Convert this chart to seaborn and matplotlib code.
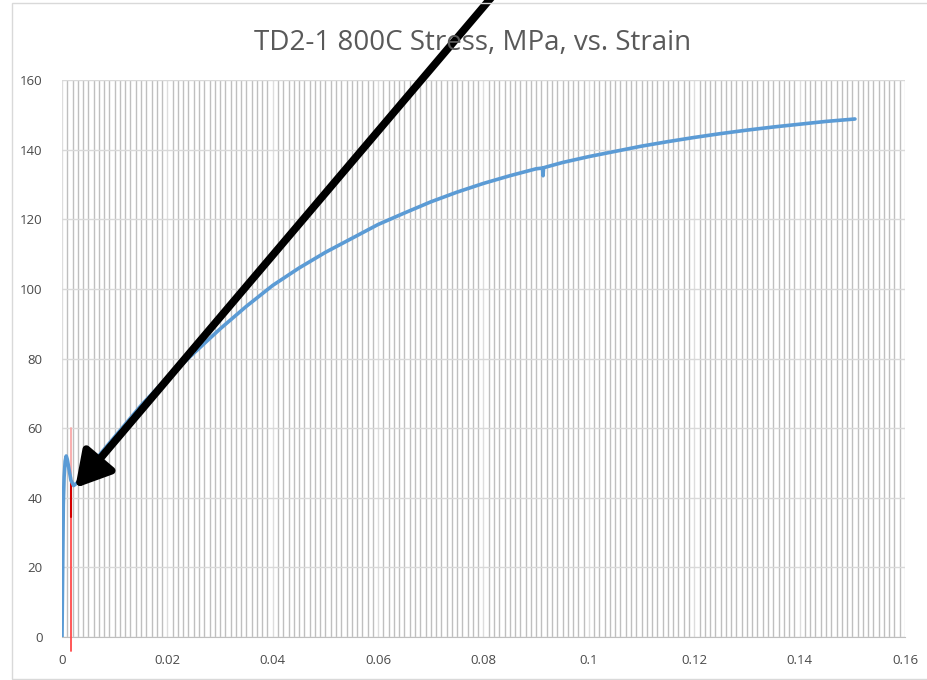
import matplotlib
matplotlib.use("Agg")
import matplotlib.pyplot as plt
import seaborn as sns
import numpy as np
import pandas as pd
from matplotlib.patches import Rectangle

# stress-strain curve
strain = [0, 0.0001, 0.00025, 0.0004, 0.0006, 0.0008, 0.001, 0.0013, 0.0017, 0.0022,
          0.0035, 0.005, 0.0075, 0.01, 0.0125, 0.015, 0.0175, 0.02, 0.0225, 0.025,
          0.0275, 0.03, 0.035, 0.04, 0.045, 0.05, 0.055, 0.06, 0.065, 0.07,
          0.075, 0.08, 0.085, 0.09, 0.0912, 0.0913, 0.0914, 0.095, 0.1, 0.105,
          0.11, 0.115, 0.12, 0.125, 0.13, 0.135, 0.14, 0.145, 0.1505]
stress = [0, 15, 38, 46, 50.5, 52, 51, 48.5, 45, 43.5,
          45, 48, 53, 57.5, 62, 66.5, 70.5, 74.5, 78, 81.5,
          85, 88.5, 95, 101, 106, 110.5, 114.5, 118.5, 121.8, 125,
          127.8, 130.3, 132.5, 134.5, 134.7, 132.5, 134.8, 136.3, 138, 139.5,
          141, 142.3, 143.5, 144.6, 145.6, 146.5, 147.3, 148.1, 148.8]

# red marker line (offset strain)
marker_x = 0.0017
marker_pink = [46, 60]
marker_red = [-4, 46]
marker_dark = [34.5, 46]

x_ticks = [0, 0.02, 0.04, 0.06, 0.08, 0.1, 0.12, 0.14, 0.16]
x_tick_labels = ["0", "0.02", "0.04", "0.06", "0.08", "0.1", "0.12", "0.14", "0.16"]
y_ticks = [0, 20, 40, 60, 80, 100, 120, 140, 160]

# arrow tip (data) and tail (figure fraction)
arrow_tip = (0.0025, 42.8)
arrow_tail = (495 / 927, 1.01)

title = "TD2-1 800C Stress, MPa, vs. Strain"

sns.set_style("white")
plt.rcParams['font.family'] = ['Open Sans', 'DejaVu Sans']

fig = plt.figure(figsize=(9.27, 6.8), dpi=100)
ax = fig.add_axes([62 / 927, 1 - 637 / 680, (905 - 62) / 927, (637 - 80) / 680])

df = pd.DataFrame({"strain": strain, "stress": stress})

# grid: dark minor verticals, lighter majors
ax.set_xlim(0, 0.16)
ax.set_ylim(0, 160)
ax.set_xticks(x_ticks)
ax.set_xticklabels(x_tick_labels)
ax.set_yticks(y_ticks)
ax.set_xticks(np.arange(0, 0.1605, 0.001), minor=True)
ax.grid(which='minor', axis='x', color='#BFBFBF', lw=1.0)
ax.grid(which='major', axis='x', color='#DDDDDD', lw=1.0)
ax.grid(which='major', axis='y', color='#D9D9D9', lw=1.0)
ax.set_axisbelow(True)
ax.tick_params(which='both', length=0)
ax.tick_params(axis='x', pad=12, labelsize=9.5, colors='#4A4A4A')
ax.tick_params(axis='y', pad=14, labelsize=9.5, colors='#4A4A4A')
for s in ['left', 'top', 'right']:
    ax.spines[s].set_visible(False)
ax.spines['bottom'].set_color('#BFBFBF')

ax.plot([marker_x, marker_x], marker_red, color='#FF4A4A', lw=1.3, clip_on=False, zorder=3)
ax.plot([marker_x, marker_x], marker_dark, color='#D40000', lw=1.5, clip_on=False, zorder=3)
ax.plot([marker_x, marker_x], marker_pink, color='#F8A8A8', lw=1.3, zorder=3)

sns.lineplot(data=df, x="strain", y="stress", sort=False, estimator=None,
             color='#5B9BD5', lw=2.6, ax=ax, zorder=4)
ax.set_xlabel("")
ax.set_ylabel("")

ax.annotate("", xy=arrow_tip, xycoords='data',
            xytext=arrow_tail, textcoords='figure fraction',
            annotation_clip=False,
            arrowprops=dict(arrowstyle='-|>,head_length=0.7,head_width=0.4',
                            lw=5.5, color='black', mutation_scale=30,
                            shrinkA=0, shrinkB=0), zorder=6)

fig.text(473 / 927, 1 - 50 / 680, title, ha='center', va='baseline',
         fontsize=20, color='#595959')

fig.patches.append(Rectangle((12 / 927, 1 / 680), 1.0, 676 / 680,
                             transform=fig.transFigure, fill=False,
                             edgecolor='#D9D9D9', lw=1.0))

fig.savefig("out.png", dpi=100)
